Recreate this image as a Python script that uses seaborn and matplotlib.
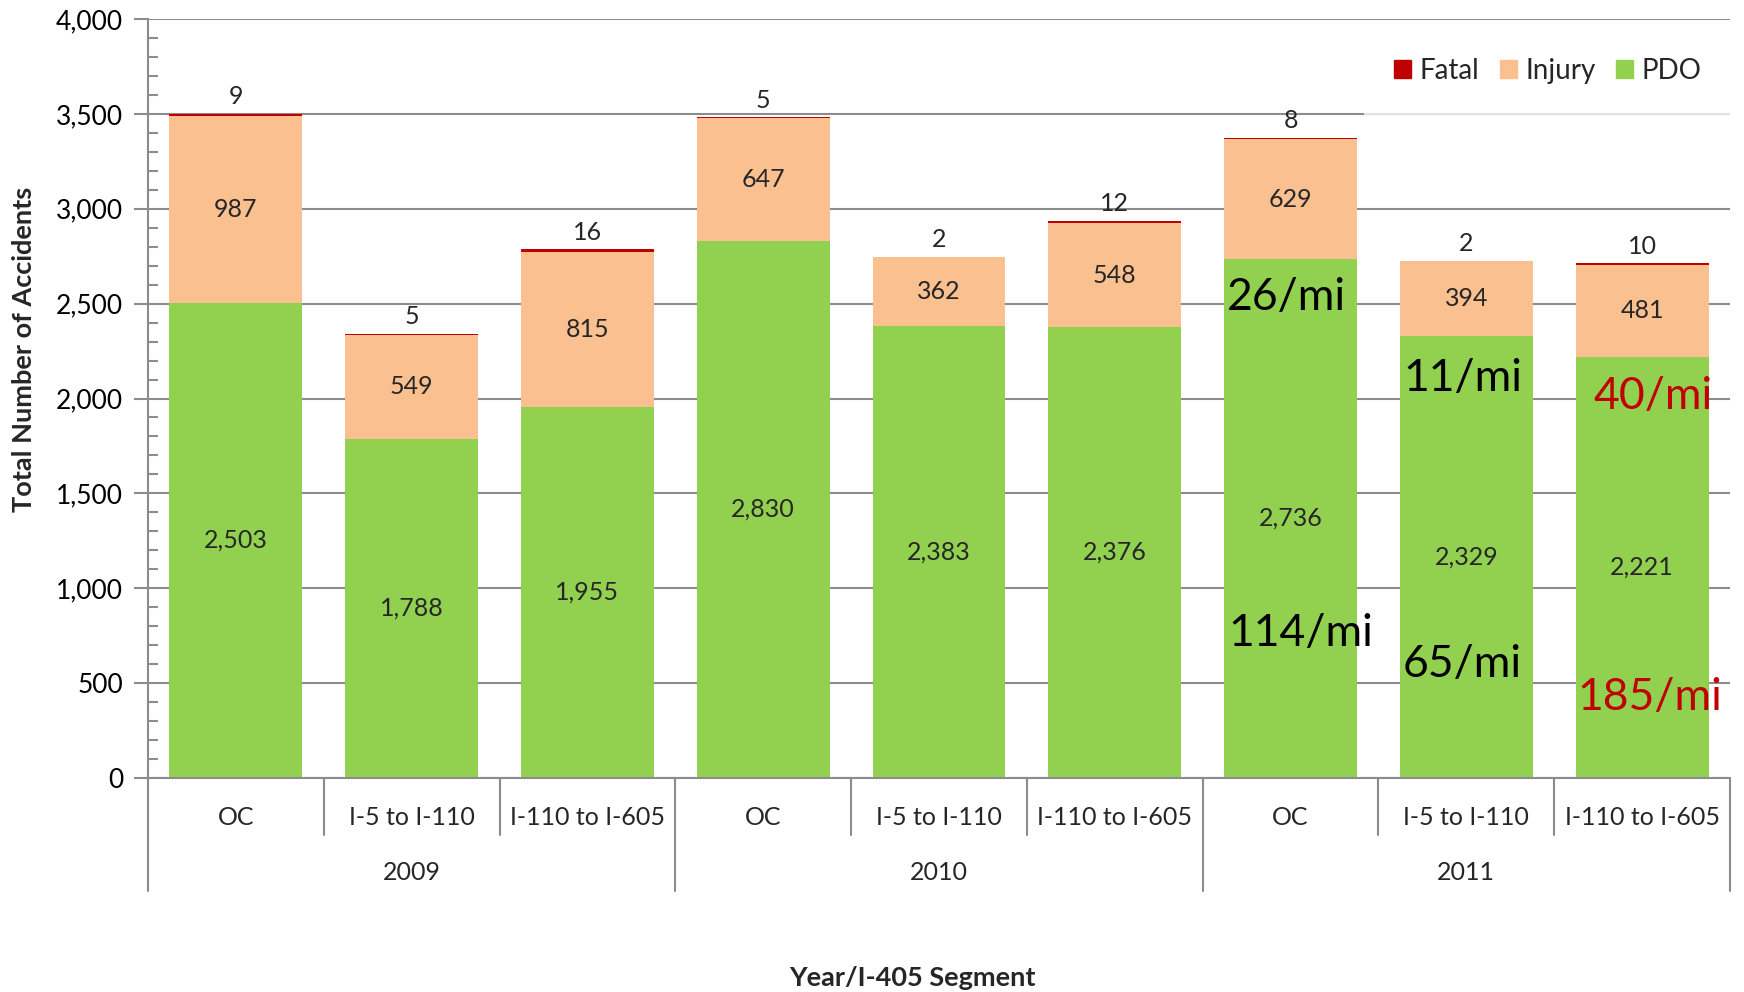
import matplotlib
matplotlib.use("Agg")
import matplotlib.pyplot as plt
import matplotlib.transforms as mtransforms
from matplotlib.patches import Patch
from matplotlib.ticker import MultipleLocator, FuncFormatter
import pandas as pd
import seaborn as sns

# Accidents per I-405 segment and year
years = ["2009", "2010", "2011"]
segments = ["OC", "I-5 to I-110", "I-110 to I-605"]
pdo = [2503, 1788, 1955, 2830, 2383, 2376, 2736, 2329, 2221]
injury = [987, 549, 815, 647, 362, 548, 629, 394, 481]
fatal = [9, 5, 16, 5, 2, 12, 8, 2, 10]

# Per-mile rate callouts on the 2011 bars
rate_text = ["26/mi", "114/mi", "11/mi", "65/mi", "40/mi", "185/mi"]
rate_pos = [(5.64, 2530), (5.645, 764), (6.64, 2108), (6.64, 596), (7.724, 2008), (7.63, 422)]
rate_red = [False, False, False, False, True, True]

FATAL_C = "#C00000"
INJURY_C = "#FAC090"
PDO_C = "#92D050"
GRID_C = "#8C8C8C"

slots = [f"{y} {s}" for y in years for s in segments]
df = pd.DataFrame({
    "slot": slots,
    "pdo": pdo,
    "injury": injury,
    "fatal": fatal,
})
df["pdo_inj"] = df["pdo"] + df["injury"]
df["total"] = df["pdo_inj"] + df["fatal"]

sns.set_theme(style="white")
plt.rcParams["font.family"] = ["Lato", "DejaVu Sans"]

fig = plt.figure(figsize=(17.44, 9.92), dpi=100)
ax = fig.add_axes([148 / 1744, 1 - 778 / 992, (1730 - 148) / 1744, (778 - 19) / 992])

ax.set_axisbelow(True)
ax.yaxis.grid(True, color=GRID_C, lw=1.5)

bw = 0.756
# stacked layers drawn as cumulative totals, tallest first
for col, c in [("total", FATAL_C), ("pdo_inj", INJURY_C), ("pdo", PDO_C)]:
    sns.barplot(data=df, x="slot", y=col, order=slots, color=c, saturation=1,
                width=bw, edgecolor="none", linewidth=0, ax=ax, errorbar=None)

ax.set_xlim(-0.5, 8.5)
ax.set_ylim(0, 4000)
ax.set_xlabel("")
ax.set_ylabel("")
ax.yaxis.set_major_locator(MultipleLocator(500))
ax.yaxis.set_minor_locator(MultipleLocator(100))
ax.yaxis.set_major_formatter(FuncFormatter(lambda v, p: f"{int(v):,}"))
ax.tick_params(axis="y", which="major", direction="out", length=10, width=1.5,
               color=GRID_C, labelsize=19, labelcolor="black", pad=8, left=True)
ax.tick_params(axis="y", which="minor", direction="in", length=7, width=1.5,
               color=GRID_C, left=True)
ax.tick_params(axis="x", length=0, labelbottom=False)
for side in ["top", "right"]:
    ax.spines[side].set_visible(False)
for side in ["left", "bottom"]:
    ax.spines[side].set_color(GRID_C)
    ax.spines[side].set_linewidth(1.5)

# value labels
for i, row in df.iterrows():
    ax.text(i, row["pdo"] / 2, f"{row['pdo']:,}", ha="center", va="center", fontsize=18)
    ax.text(i, row["pdo"] + row["injury"] / 2, f"{row['injury']:,}", ha="center",
            va="center", fontsize=18)
    ax.text(i, row["total"] + 90, f"{row['fatal']}", ha="center", va="center", fontsize=18)

# rate callouts
for t, (x, y), red in zip(rate_text, rate_pos, rate_red):
    ax.text(x, y, t, ha="left", va="center", fontsize=32,
            color=FATAL_C if red else "black")

# two-level category axis
trans = mtransforms.blended_transform_factory(ax.transData, ax.transAxes)
for b in [0.5, 1.5, 3.5, 4.5, 6.5, 7.5]:
    ax.plot([b, b], [0, -0.075], transform=trans, color=GRID_C, lw=1.5, clip_on=False)
for b in [-0.5, 2.5, 5.5, 8.5]:
    ax.plot([b, b], [0, -0.149], transform=trans, color=GRID_C, lw=1.5, clip_on=False)
for i, s in enumerate(segments * len(years)):
    ax.text(i, -0.0514, s, transform=trans, ha="center", va="center", fontsize=18)
for j, y in enumerate(years):
    ax.text(3 * j + 1, -0.125, y, transform=trans, ha="center", va="center", fontsize=18)

fig.text(24 / 1744, 1 - 349 / 992, "Total Number of Accidents", rotation=90,
         ha="center", va="center", fontsize=19.5, fontweight="bold")
fig.text(912 / 1744, 1 - 978 / 992, "Year/I-405 Segment", ha="center", va="center",
         fontsize=19.5, fontweight="bold")

handles = [Patch(color=FATAL_C, label="Fatal"), Patch(color=INJURY_C, label="Injury"),
           Patch(color=PDO_C, label="PDO")]
leg = ax.legend(handles=handles, loc="center right",
                bbox_to_anchor=(1.001, (778 - 71) / 759),
                ncol=3, fontsize=20, frameon=True, framealpha=0.75, edgecolor="none",
                fancybox=False, borderpad=1.1, borderaxespad=0,
                handlelength=0.6, handleheight=0.6, handletextpad=0.3,
                columnspacing=0.75)
leg.get_frame().set_facecolor("white")

fig.savefig("out.png", dpi=100)
